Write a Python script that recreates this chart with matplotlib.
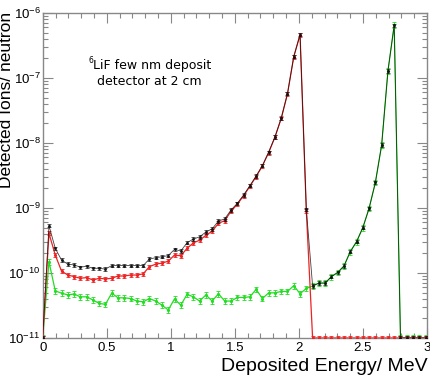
import numpy as np
import matplotlib
matplotlib.use("Agg")
import matplotlib.pyplot as plt
from matplotlib.ticker import MultipleLocator, LogLocator, NullFormatter

plt.rcParams['font.family'] = ['Liberation Sans', 'DejaVu Sans']
plt.rcParams['mathtext.fontset'] = 'custom'
plt.rcParams['mathtext.rm'] = 'Liberation Sans'
plt.rcParams['mathtext.it'] = 'Liberation Sans:italic'

# bin width of the histogram (MeV), bins start at 0
bin_width = 0.049
floor = 1e-11  # empty bins sit on the frame bottom

# total (black)
total = [floor, 5.35e-10, 2.4e-10, 1.58e-10, 1.37e-10, 1.33e-10, 1.23e-10, 1.27e-10,
         1.18e-10, 1.18e-10, 1.15e-10, 1.3e-10, 1.3e-10, 1.3e-10, 1.3e-10, 1.3e-10,
         1.3e-10, 1.64e-10, 1.72e-10, 1.78e-10, 1.85e-10, 2.31e-10, 2.18e-10, 2.92e-10,
         3.33e-10, 3.6e-10, 4.27e-10, 4.78e-10, 6.3e-10, 6.8e-10, 9.3e-10, 1.18e-9,
         1.58e-9, 2.2e-9, 3.1e-9, 4.48e-9, 7.2e-9, 1.24e-8, 2.4e-8, 5.75e-8,
         2.13e-7, 4.64e-7, 9.5e-10, 6.3e-11, 7.0e-11, 7.0e-11, 8.8e-11, 1.02e-10,
         1.28e-10, 2.13e-10, 3.03e-10, 4.98e-10, 9.9e-10, 2.47e-9, 9.3e-9, 1.28e-7,
         6.5e-7, floor, floor, floor, floor, floor]

# alphas (red)
alpha = [floor, 4.08e-10, 1.89e-10, 1.07e-10, 9.3e-11, 8.8e-11, 8.3e-11, 8.5e-11,
         7.8e-11, 8.3e-11, 8.1e-11, 8.3e-11, 9.0e-11, 9.0e-11, 9.3e-11, 9.3e-11,
         9.7e-11, 1.25e-10, 1.37e-10, 1.42e-10, 1.52e-10, 1.89e-10, 1.84e-10, 2.4e-10,
         2.9e-10, 3.2e-10, 3.8e-10, 4.4e-10, 5.8e-10, 6.4e-10, 8.9e-10, 1.14e-9,
         1.54e-9, 2.15e-9, 3.05e-9, 4.44e-9, 7.15e-9, 1.23e-8, 2.39e-8, 5.74e-8,
         2.13e-7, 4.64e-7, 8.9e-10, floor, floor, floor, floor, floor,
         floor, floor, floor, floor, floor, floor, floor, floor,
         floor, floor, floor, floor, floor, floor]

# tritons (green)
triton = [floor, 1.49e-10, 5.3e-11, 4.9e-11, 4.6e-11, 4.75e-11, 4.3e-11, 4.3e-11,
          3.85e-11, 3.4e-11, 3.3e-11, 4.9e-11, 4.15e-11, 4.15e-11, 4.05e-11, 3.7e-11,
          3.6e-11, 4.05e-11, 3.7e-11, 3.2e-11, 2.7e-11, 4.0e-11, 3.2e-11, 4.7e-11,
          4.3e-11, 3.7e-11, 4.6e-11, 3.7e-11, 4.8e-11, 3.7e-11, 3.7e-11, 4.2e-11,
          4.2e-11, 4.3e-11, 5.6e-11, 4.05e-11, 4.95e-11, 4.95e-11, 5.2e-11, 5.2e-11,
          6.4e-11, 4.8e-11, 5.8e-11, 6.3e-11, 7.0e-11, 7.0e-11, 8.8e-11, 1.02e-10,
          1.28e-10, 2.13e-10, 3.03e-10, 4.98e-10, 9.9e-10, 2.47e-9, 9.3e-9, 1.28e-7,
          6.5e-7, floor, floor, floor, floor, floor]

# relative statistical errors
total_rel_err = 0.06
alpha_rel_err = 0.07
triton_rel_err = 0.10

energy = bin_width * np.arange(len(total))

fig = plt.figure(figsize=(4.31, 3.76), dpi=100)
ax = fig.add_axes([42.7 / 431, 1 - 338 / 376, (427 - 42.7) / 431, (338 - 13) / 376])

def draw(vals, rel, col, lw, z, a=1.0):
    vals = np.array(vals)
    ax.errorbar(energy, vals, yerr=vals * rel, fmt='-', color=col, lw=lw,
                marker='.', markersize=2.5, capsize=1.3, elinewidth=0.6,
                capthick=0.6, zorder=z, alpha=a)

draw(triton, triton_rel_err, '#22dd22', 0.9, 2)
draw(alpha, alpha_rel_err, '#ee2222', 0.9, 3)
draw(total, total_rel_err, '#111111', 0.6, 4, a=0.8)

ax.set_yscale('log')
ax.set_xlim(0, 3)
ax.set_ylim(1e-11, 1e-6)

ax.xaxis.set_minor_locator(MultipleLocator(0.1))
ax.yaxis.set_major_locator(LogLocator(base=10, numticks=10))
ax.yaxis.set_minor_locator(LogLocator(base=10, subs=np.arange(2, 10), numticks=20))
ax.yaxis.set_minor_formatter(NullFormatter())
ax.set_xticks([0, 0.5, 1, 1.5, 2, 2.5, 3])
ax.set_xticklabels(['0', '0.5', '1', '1.5', '2', '2.5', '3'])

ax.tick_params(which='both', direction='in', top=True, right=True,
               color='#888888', width=0.8, labelsize=9.5)
ax.tick_params(which='major', length=7)
ax.tick_params(which='minor', length=3.5)
ax.tick_params(axis='y', pad=1.5)
ax.tick_params(axis='x', pad=3)
for s in ax.spines.values():
    s.set_color('#888888')
    s.set_linewidth(1.0)

fig.text(428 / 431, 5 / 376, 'Deposited Energy/ MeV', ha='right', va='baseline', fontsize=14)
fig.text(7 / 431, 1 - 12 / 376, 'Detected Ions/ neutron', ha='center', va='top',
         rotation=90, fontsize=12.5)

ax.text(0.12, 0.846, '6', transform=ax.transAxes, fontsize=5.5,
        family='DejaVu Sans', va='baseline')
ax.text(0.131, 0.829, 'LiF few nm deposit', transform=ax.transAxes, fontsize=9,
        family='DejaVu Sans', va='baseline')
ax.text(0.141, 0.777, 'detector at 2 cm', transform=ax.transAxes, fontsize=9,
        family='DejaVu Sans', va='baseline')

fig.savefig('out.png', dpi=100)
